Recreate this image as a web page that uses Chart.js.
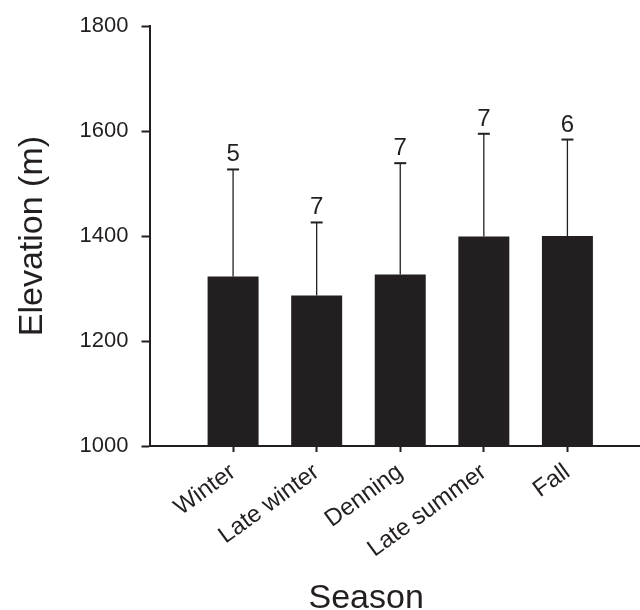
<!DOCTYPE html>
<html>
<head>
<meta charset="utf-8">
<script src="https://cdn.jsdelivr.net/npm/chart.js@4.4.1/dist/chart.umd.min.js"></script>
<style>
  html, body { margin: 0; padding: 0; background: #fff; overflow: hidden; }
  /* plot runs off the right edge like the original, so the box is a bit wider than the window */
  #wrap { width: 651px; height: 610px; }
</style>
</head>
<body>
<div id="wrap"><canvas id="chart"></canvas></div>
<script>
// Season means, SD (upper error bar) and sample sizes
const seasons = ['Winter', 'Late winter', 'Denning', 'Late summer', 'Fall'];
const meanElev = [1323, 1287, 1327, 1399, 1400];
const sdElev = [204, 139, 212, 196, 184];
const sampleN = [5, 7, 7, 7, 6];
const yMin = 1000;
const yMax = 1800;
const yStep = 200;

const ink = '#231f20';
const font = "'Liberation Sans', Arial, Helvetica, sans-serif";

// empty slots at both ends give the gap before the first bar and after the last
const labels = ['', ...seasons, ''];
const values = [null, ...meanElev, null];

const errorBars = {
  id: 'errorBars',
  afterDatasetsDraw(chart) {
    const ctx = chart.ctx;
    const y = chart.scales.y;
    const meta = chart.getDatasetMeta(0);
    ctx.save();
    ctx.strokeStyle = ink;
    ctx.fillStyle = ink;
    seasons.forEach((s, i) => {
      const x = meta.data[i + 1].x;
      const yTop = y.getPixelForValue(meanElev[i] + sdElev[i]);
      const yBase = y.getPixelForValue(meanElev[i]);
      ctx.lineWidth = 1.3;
      ctx.beginPath();
      ctx.moveTo(x, yBase);
      ctx.lineTo(x, yTop);
      ctx.stroke();
      ctx.lineWidth = 2;
      ctx.beginPath();
      ctx.moveTo(x - 6, yTop);
      ctx.lineTo(x + 6, yTop);
      ctx.stroke();
      ctx.font = '24px ' + font;
      ctx.textAlign = 'center';
      ctx.textBaseline = 'alphabetic';
      ctx.fillText(String(sampleN[i]), x, yTop - 8);
    });
    ctx.restore();
  }
};

// x axis title sits left of the axis centre in the original
const seasonTitle = {
  id: 'seasonTitle',
  afterDraw(chart) {
    const ctx = chart.ctx;
    const x = chart.scales.x;
    ctx.save();
    ctx.fillStyle = ink;
    ctx.font = '34px ' + font;
    ctx.textAlign = 'center';
    ctx.textBaseline = 'alphabetic';
    ctx.fillText('Season', x.left + (x.right - x.left) * 0.432, chart.height - 2);
    ctx.restore();
  }
};

new Chart(document.getElementById('chart'), {
  type: 'bar',
  data: {
    labels: labels,
    datasets: [{
      data: values,
      backgroundColor: ink,
      borderWidth: 0,
      barPercentage: 0.61,
      categoryPercentage: 1.0
    }]
  },
  options: {
    responsive: true,
    maintainAspectRatio: false,
    animation: false,
    layout: { padding: { top: 7, right: 0, bottom: 2, left: 12 } },
    plugins: {
      legend: { display: false },
      tooltip: { enabled: false }
    },
    scales: {
      x: {
        offset: false,
        border: { color: ink, width: 2 },
        grid: {
          offset: false,
          drawOnChartArea: false,
          tickLength: 6,
          tickWidth: 2,
          tickColor: c => (labels[c.index] ? ink : 'rgba(0,0,0,0)')
        },
        ticks: {
          color: ink,
          font: { family: font, size: 24 },
          minRotation: 36,
          maxRotation: 36,
          autoSkip: false,
          padding: 6
        },
        afterFit(scale) {
          scale.height = 162;
          scale.paddingLeft = 0;
          scale.paddingRight = 0;
        }
      },
      y: {
        min: yMin,
        max: yMax,
        border: { color: ink, width: 2 },
        grid: {
          drawOnChartArea: false,
          tickLength: 8,
          tickWidth: 2,
          tickColor: ink
        },
        ticks: {
          stepSize: yStep,
          color: ink,
          font: { family: font, size: 22 },
          padding: 13,
          callback: v => String(v)
        },
        title: {
          display: true,
          text: 'Elevation (m)',
          color: ink,
          font: { family: font, size: 34 },
          padding: { top: 0, bottom: 0 }
        },
        afterFit(scale) { scale.width = 137.5; }
      }
    }
  },
  plugins: [errorBars, seasonTitle]
});
</script>
</body>
</html>
